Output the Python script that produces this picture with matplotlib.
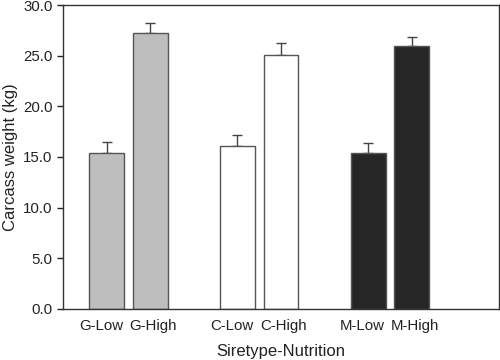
import matplotlib
matplotlib.use('Agg')
import matplotlib.pyplot as plt
import numpy as np

plt.rcParams['font.family'] = ['Liberation Sans', 'DejaVu Sans']

""" Data """

labels = ['G-Low', 'G-High', 'C-Low', 'C-High', 'M-Low', 'M-High']
means = [15.4, 27.2, 16.1, 25.1, 15.35, 25.95]
errs = [1.05, 1.0, 1.1, 1.15, 1.05, 0.9]
fills = ['#bebebe', '#bebebe', '#ffffff', '#ffffff', '#262626', '#262626']
xpos = [0, 1, 3, 4, 6, 7]

""" Plot """

fig = plt.figure(figsize=(5, 3.6), dpi=100)
ax = fig.add_axes([0.126, 0.142, 0.872, 0.844])

ax.bar(xpos, means, width=0.8, color=fills, edgecolor='#555555', linewidth=1.0, zorder=2)
ax.errorbar(xpos, means, yerr=[np.zeros(len(errs)), errs], fmt='none',
            ecolor='#444444', elinewidth=1.0, capsize=3.6, capthick=1.0, zorder=1)

# labels sit a little apart from the bar centres in each pair
shift = [-0.13, 0.07] * 3
ax.set_xlim(-1, 9)
ax.set_ylim(0, 30)
ax.set_yticks(np.arange(0, 30.1, 5))
ax.set_yticklabels(['%.1f' % v for v in np.arange(0, 30.1, 5)])
ax.set_xticks([p + s for p, s in zip(xpos, shift)])
ax.set_xticklabels(labels)
ax.tick_params(axis='x', length=0, pad=7, labelsize=10.8, colors='#222222')
ax.tick_params(axis='y', length=4, width=1, pad=3.5, labelsize=10.8, colors='#222222')

for s in ax.spines.values():
    s.set_color('#333333')
    s.set_linewidth(1.0)

ax.set_xlabel('Siretype-Nutrition', fontsize=12, color='#222222', labelpad=8)
ax.set_ylabel('Carcass weight (kg)', fontsize=12, color='#222222', labelpad=4)

fig.savefig('out.png', dpi=100)
